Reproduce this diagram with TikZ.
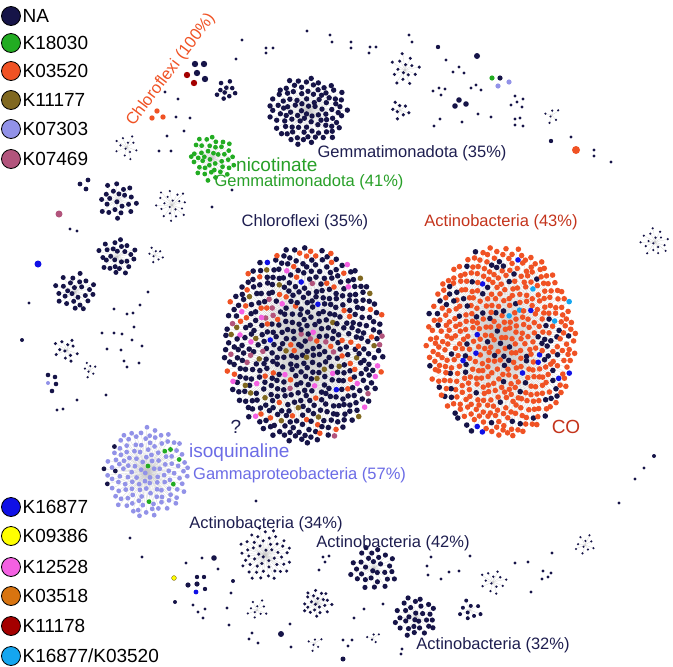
\documentclass[tikz,border=0pt]{standalone}
\usepackage{fontspec}
\setmainfont{Liberation Sans}
\usepackage{tikz}
\definecolor{na}{RGB}{22,20,72}
\definecolor{kgreen}{RGB}{34,172,34}
\definecolor{korange}{RGB}{240,82,36}
\definecolor{kolive}{RGB}{128,104,32}
\definecolor{kpurple}{RGB}{146,146,232}
\definecolor{kmauve}{RGB}{178,84,124}
\definecolor{kblue}{RGB}{16,16,230}
\definecolor{kyellow}{RGB}{255,255,0}
\definecolor{kpink}{RGB}{244,96,226}
\definecolor{kbrown}{RGB}{216,116,16}
\definecolor{kred}{RGB}{164,0,0}
\definecolor{ksky}{RGB}{20,166,240}
\definecolor{lbnavy}{RGB}{30,30,80}
\definecolor{lbred}{RGB}{196,52,28}
\definecolor{lbgreen}{RGB}{40,160,40}
\definecolor{lbpurple}{RGB}{108,108,230}
% palettes, index 0 is the main colour of a cluster
\colorlet{chl0}{na}\colorlet{chl1}{korange}\colorlet{chl2}{kolive}
\colorlet{chl3}{kmauve}\colorlet{chl4}{kpink}\colorlet{chl5}{kblue}
\colorlet{act0}{korange}\colorlet{act1}{na}\colorlet{act2}{korange}
\colorlet{act3}{na}\colorlet{act4}{kblue}\colorlet{act5}{ksky}
\colorlet{gam0}{kpurple}\colorlet{gam1}{kpurple}\colorlet{gam2}{na}
\colorlet{gam3}{kgreen}\colorlet{gam4}{kpurple}\colorlet{gam5}{na}
\colorlet{grn0}{kgreen}\colorlet{grn1}{kgreen}\colorlet{grn2}{kgreen}
\colorlet{grn3}{kgreen}\colorlet{grn4}{kgreen}\colorlet{grn5}{kgreen}
\colorlet{nav0}{na}\colorlet{nav1}{na}\colorlet{nav2}{na}
\colorlet{nav3}{na}\colorlet{nav4}{na}\colorlet{nav5}{na}
\newcommand{\specksize}{1.6pt}
% cx, cy, rx, ry, count, dot radius, palette
\newcommand{\hubcluster}[7]{%
  \foreach \k in {1,...,#5}{
    \pgfmathsetmacro\rk{sqrt((\k-0.5)/#5)}
    \pgfmathsetmacro\ang{360*(\k*0.381966-floor(\k*0.381966))}
    \draw[spoke] (#1,#2) -- ++({#3*\rk*cos(\ang)},{#4*\rk*sin(\ang)});
  }
  \foreach \k in {1,...,#5}{
    \pgfmathsetmacro\rk{sqrt((\k-0.5)/#5)}
    \pgfmathsetmacro\ang{360*(\k*0.381966-floor(\k*0.381966))}
    \pgfmathsetmacro\px{#1+#3*\rk*cos(\ang)+0.5*#6*rand}
    \pgfmathsetmacro\py{#2+#4*\rk*sin(\ang)+0.5*#6*rand}
    \pgfmathsetmacro\rc{rnd}
    \pgfmathtruncatemacro\ci{(\rc>0.74)+(\rc>0.87)+(\rc>0.915)+(\rc>0.955)+(\rc>0.985)}
    \fill[#7\ci] (\px,\py) circle (#6pt);
  }}

\begin{document}
\begin{tikzpicture}[x=1pt,y=-1pt,
  spoke/.style={draw=gray!45, line width=0.15pt},
  legdot/.style={draw=black, circle, line width=0.8pt, minimum size=19pt, inner sep=0pt},
  legtext/.style={anchor=west, inner sep=1.5pt, font=\fontsize{19}{22}\selectfont},
  taxlabel/.style={inner sep=0pt, font=\fontsize{16.5}{19}\selectfont},
  funclabel/.style={inner sep=0pt, font=\fontsize{19}{22}\selectfont}]
\fill[white] (0,0) rectangle (673,667);
\useasboundingbox (0,0) rectangle (673,667);
\pgfmathsetseed{2718}

% the two big clusters
\hubcluster{304}{345}{81}{99}{520}{2.8}{chl}
\hubcluster{501}{342}{75}{96}{500}{2.8}{act}
% medium clusters
\hubcluster{308}{111}{40}{34}{96}{2.7}{nav}
\hubcluster{212}{158}{23}{23}{42}{2.4}{grn}
\hubcluster{147}{472}{43}{45}{130}{2.4}{gam}

% small clusters
\foreach \cx/\cy/\rr/\nn/\dd in {226/91/11/10/2.3, 127/147/13/12/1.2, 118/200/19/22/2.5,
  172/205/17/20/1.2, 117/257/19/26/2.5, 75/292/20/26/2.5, 155/255/9/8/1.2,
  67/350/13/12/1.7, 90/370/8/7/1.2, 405/70/16/15/1.7, 400/110/10/8/1.8,
  552/115/9/6/1.2, 655/242/15/17/1.2, 265/555/27/50/1.7, 374/568/23/30/2.6,
  416/617/21/30/2.6, 317/603/15/22/1.7, 257/610/11/10/1.2, 315/643/8/6/1.2,
  373/638/7/5/1.2, 470/610/12/9/2, 493/582/14/13/1.3, 585/545/11/10/1.2}
  {\hubcluster{\cx}{\cy}{\rr}{\rr}{\nn}{\dd}{nav}}

% loose specks
\foreach \x/\y in {242/40, 236/59, 266/48, 266/53, 273/48, 165/92, 178/99, 176/117,
  190/118, 184/131, 167/136, 159/151, 171/151, 232/190, 212/207, 307/31, 330/35,
  332/42, 351/42, 351/48, 370/47, 376/47, 369/53, 409/35, 412/42, 446/60, 453/72,
  459/67, 464/73, 433/91, 439/88, 445/89, 441/95, 471/88, 476/85, 481/90, 440/119,
  434/126, 462/122, 478/114, 491/117, 515/96, 523/99, 511/105, 517/102, 522/107,
  515/119, 520/118, 515/125, 523/126, 571/137, 594/150, 594/156, 611/162,
  70/229, 77/231, 148/292, 29/303, 140/305, 133/313, 127/314, 114/309, 134/327,
  102/333, 114/333, 122/334, 132/340, 107/349, 121/350, 142/346, 124/361,
  127/367, 139/363, 77/400, 106/395, 57/410, 63/409, 644/468, 635/479, 619/503,
  256/501, 130/538, 142/557, 202/558, 186/563, 218/569, 231/593, 227/608,
  229/625, 252/633, 249/639, 258/643, 290/624, 291/647, 343/640, 352/640,
  348/646, 354/618, 364/609, 383/604, 402/649, 401/654, 319/570, 323/557,
  329/556, 325/562, 431/557, 427/566, 428/575, 441/579, 449/572, 459/571,
  470/556, 515/563, 528/562, 531/592, 552/553, 543/571, 551/573, 542/579,
  548/577, 193/605, 205/609, 198/612, 203/618}
  \fill[na] (\x,\y) circle (\specksize);
\foreach \x/\y/\r/\c in {80/184/2.4/na, 88/180/2.4/na, 86/189/2.4/na, 22/340/2/na,
  48/375/2.3/na, 55/377/2.3/na, 56/384/2.3/na, 52/391/2.3/na, 48/383/2/kpurple,
  438/47/2.2/na, 477/56/3/na, 459/100/2.8/na, 466/104/2.8/na, 455/106/2.8/na,
  551/141/2.2/na, 654/456/2/na, 214/558/2.8/na, 233/581/2/na, 175/602/2/na,
  188/585/2.6/na, 197/577/2.2/na, 204/577/2.2/na, 197/584/2.6/na, 205/589/2.2/na,
  196/592/2.4/kblue, 281/634/3/na, 343/659/2.5/na, 500/78/2.6/na,
  492/78/2.6/kgreen, 498/86/2.6/kpurple, 509/82/2.6/kpurple, 59/214/3.5/kmauve,
  38/264/3.5/kblue, 576/150/4/korange, 195/64/3.2/na, 204/64/3.2/na,
  197/73/3.2/na, 205/79/3.2/na, 187/75/3.2/kred, 194/83/3.2/kred,
  157/111/2.7/korange, 152/118/2.7/korange, 163/117/2.7/korange}
  \fill[\c] (\x,\y) circle (\r pt);
\draw[kolive, line width=0.4pt, fill=kyellow] (174,578) circle (2.4pt);

% labels
\node (chl100) at (171,70) [taxlabel, korange, rotate=53] {Chloroflexi (100\%)};
\node (gem35) at (412,153) [taxlabel, lbnavy] {Gemmatimonadota (35\%)};
\node (nicot) at (236,165) [funclabel, lbgreen, anchor=west] {nicotinate};
\node (gem41) at (309,182) [taxlabel, lbgreen] {Gemmatimonadota (41\%)};
\node (chl35) at (305,222) [taxlabel, lbnavy] {Chloroflexi (35\%)};
\node (act43) at (501,222) [taxlabel, lbred] {Actinobacteria (43\%)};
\node (qmark) at (236,427) [funclabel, lbnavy] {?};
\node (co) at (566,427) [funclabel, lbred] {CO};
\node (isoq) at (189,453) [funclabel, lbpurple, anchor=west] {isoquinaline};
\node (gam57) at (193,475) [taxlabel, lbpurple, anchor=west] {Gammaproteobacteria (57\%)};
\node (act34) at (266,524) [taxlabel, lbnavy] {Actinobacteria (34\%)};
\node (act42) at (393,543) [taxlabel, lbnavy] {Actinobacteria (42\%)};
\node (act32) at (493,645) [taxlabel, lbnavy] {Actinobacteria (32\%)};

% legend
\foreach \i/\col/\yy/\txt in {1/na/16/NA, 2/kgreen/43/K18030, 3/korange/71/K03520,
  4/kolive/100/K11177, 5/kpurple/129/K07303, 6/kmauve/159/K07469,
  7/kblue/507/K16877, 8/kyellow/536/K09386, 9/kpink/567/K12528,
  10/kbrown/596/K03518, 11/kred/626/K11178, 12/ksky/656/{K16877/K03520}}{
  \node (leg\i) at (11,\yy) [legdot, fill=\col] {};
  \node (legtxt\i) at (leg\i.east) [legtext] {\txt};
}
\end{tikzpicture}
\end{document}
